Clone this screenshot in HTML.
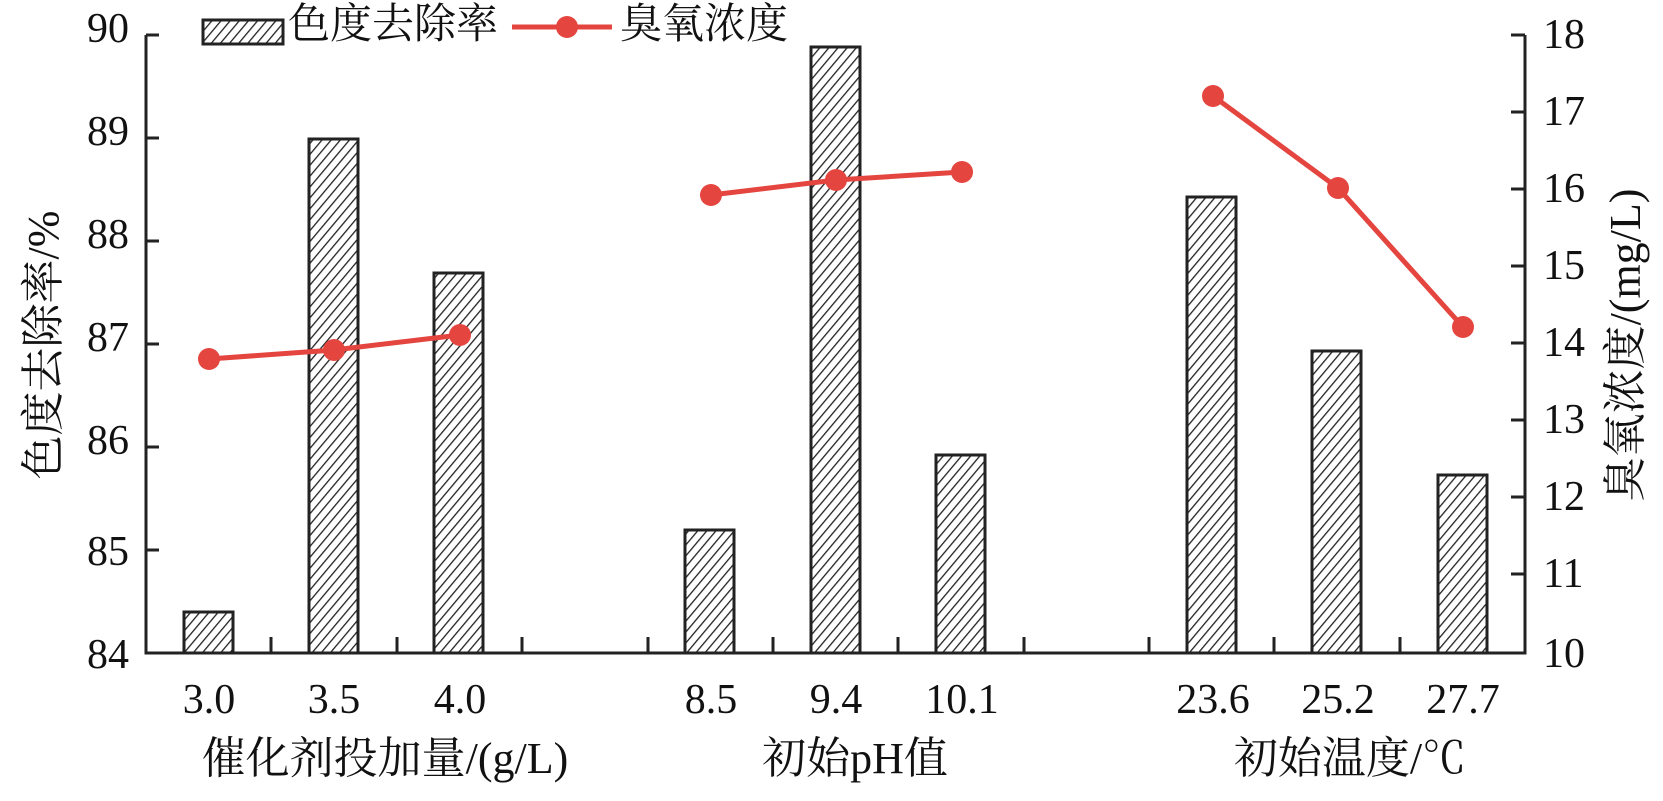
<!DOCTYPE html>
<html><head><meta charset="utf-8"><style>
html,body{margin:0;padding:0;background:#fff}
svg{display:block}
text{font-family:"Liberation Serif","Noto Serif CJK SC",serif;fill:#111}
</style></head><body>
<svg width="1663" height="801" viewBox="0 0 1663 801" xmlns="http://www.w3.org/2000/svg">
<defs>
<pattern id="h" width="7" height="7" patternUnits="userSpaceOnUse" patternTransform="rotate(40)">
<rect width="7" height="7" fill="#fff"/>
<line x1="0" y1="0" x2="0" y2="7" stroke="#222" stroke-width="2.6"/>
</pattern>
</defs>
<g stroke="#222" stroke-width="3" fill="url(#h)">
<rect x="184" y="612" width="49" height="41"/>
<rect x="309" y="139" width="49" height="514"/>
<rect x="434" y="273" width="49" height="380"/>
<rect x="685" y="530" width="49" height="123"/>
<rect x="811" y="47" width="49" height="606"/>
<rect x="936" y="455" width="49" height="198"/>
<rect x="1187" y="197" width="49" height="456"/>
<rect x="1312" y="351" width="49" height="302"/>
<rect x="1438" y="475" width="49" height="178"/>
</g>
<g stroke="#222" stroke-width="3" fill="none">
<path d="M146 35 V653 H1525 V35"/>
<path d="M146 35h13M146 138h13M146 241h13M146 344h13M146 447h13M146 550h13"/>
<path d="M1525 35h-14M1525 112h-14M1525 189h-14M1525 266h-14M1525 343h-14M1525 420h-14M1525 497h-14M1525 574h-14"/>
<path d="M271 653v-16M397 653v-16M522 653v-16M648 653v-16M773 653v-16M898 653v-16M1024 653v-16M1149 653v-16M1274 653v-16M1400 653v-16"/>
</g>
<g stroke="#e5453f" stroke-width="5" fill="none">
<polyline points="209,359 334,350 460,335"/>
<polyline points="711,195 836,180 962,172"/>
<polyline points="1213,96 1338,188 1463,327"/>
</g>
<g fill="#e5453f">
<circle cx="209" cy="359" r="11"/><circle cx="334" cy="350" r="11"/><circle cx="460" cy="335" r="11"/>
<circle cx="711" cy="195" r="11"/><circle cx="836" cy="180" r="11"/><circle cx="962" cy="172" r="11"/>
<circle cx="1213" cy="96" r="11"/><circle cx="1338" cy="188" r="11"/><circle cx="1463" cy="327" r="11"/>
</g>
<g font-size="42" text-anchor="end">
<text x="129" y="42">90</text><text x="129" y="145">89</text><text x="129" y="248">88</text>
<text x="129" y="351">87</text><text x="129" y="454">86</text><text x="129" y="565">85</text><text x="129" y="668">84</text>
</g>
<g font-size="42">
<text x="1543" y="48">18</text><text x="1543" y="125">17</text><text x="1543" y="202">16</text>
<text x="1543" y="279">15</text><text x="1543" y="356">14</text><text x="1543" y="433">13</text>
<text x="1543" y="510">12</text><text x="1543" y="587">11</text><text x="1543" y="667">10</text>
</g>
<g font-size="42" text-anchor="middle">
<text x="209" y="713">3.0</text><text x="334" y="713">3.5</text><text x="460" y="713">4.0</text>
<text x="711" y="713">8.5</text><text x="836" y="713">9.4</text><text x="962" y="713">10.1</text>
<text x="1213" y="713">23.6</text><text x="1338" y="713">25.2</text><text x="1463" y="713">27.7</text>
</g>
<g font-size="44" text-anchor="middle">
<text x="385" y="773">催化剂投加量/(g/L)</text>
<text x="855" y="773">初始pH值</text>
<text x="1350" y="773">初始温度/℃</text>
</g>
<text font-size="44" text-anchor="middle" transform="translate(58,345) rotate(-90)">色度去除率/%</text>
<text font-size="44" text-anchor="middle" transform="translate(1640,345) rotate(-90)">臭氧浓度/(mg/L)</text>
<rect x="203" y="20" width="80" height="24" stroke="#222" stroke-width="3" fill="url(#h)"/>
<text x="288" y="38" font-size="42">色度去除率</text>
<line x1="512" y1="27" x2="612" y2="27" stroke="#e5453f" stroke-width="5"/>
<circle cx="567" cy="27" r="11" fill="#e5453f"/>
<text x="620" y="38" font-size="42">臭氧浓度</text>
</svg>
</body></html>
